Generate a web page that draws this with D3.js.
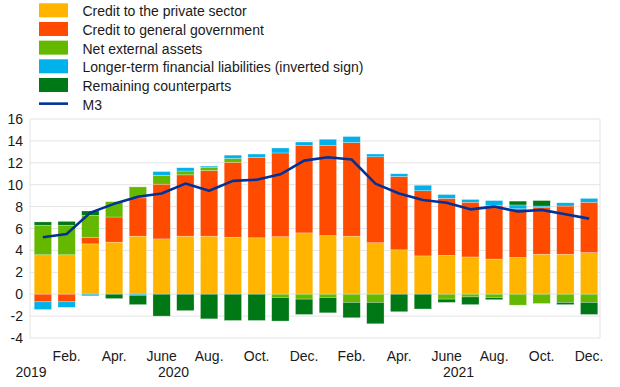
<!DOCTYPE html>
<html>
<head>
<meta charset="utf-8">
<script src="https://cdn.jsdelivr.net/npm/d3@7"></script>
<style>
  body { margin: 0; background: #fff; }
  text { font-family: "Liberation Sans", Arial, sans-serif; fill: #1a1a1a; }
</style>
</head>
<body>
<div id="chart"><svg width="620" height="387"></svg></div>
<script>
// months Jan 2020 .. Dec 2021
var months = ["2020-01", "2020-02", "2020-03", "2020-04", "2020-05", "2020-06",
    "2020-07", "2020-08", "2020-09", "2020-10", "2020-11", "2020-12",
    "2021-01", "2021-02", "2021-03", "2021-04", "2021-05", "2021-06",
    "2021-07", "2021-08", "2021-09", "2021-10", "2021-11", "2021-12"];
var monthLabels = ["", "Feb.", "", "Apr.", "", "June", "", "Aug.", "", "Oct.", "", "Dec.",
    "", "Feb.", "", "Apr.", "", "June", "", "Aug.", "", "Oct.", "", "Dec."];
var years = ["2019", "2020", "2021"];

var privateSector = [3.6, 3.6, 4.6, 4.75, 5.3, 5.05, 5.3, 5.3, 5.2, 5.15, 5.25, 5.6,
    5.35, 5.3, 4.7, 4.05, 3.5, 3.55, 3.4, 3.2, 3.35, 3.65, 3.65, 3.8];
var generalGov = [-0.7, -0.7, 0.6, 2.3, 3.5, 5.0, 5.6, 6.0, 6.85, 7.35, 7.65, 8.0,
    8.25, 8.55, 7.85, 6.7, 5.95, 5.2, 5.0, 4.9, 4.45, 4.3, 4.4, 4.6];
var netExternal = [2.7, 2.7, 2.0, 1.4, 1.0, 0.8, 0.35, 0.3, 0.35, 0, -0.3, -0.45,
    -0.3, -0.75, -0.75, 0, 0, -0.45, -0.25, -0.3, -1.0, -0.85, -0.75, -0.75];
var longerTerm = [-0.7, -0.5, -0.15, 0, -0.1, 0.35, 0.3, 0.1, 0.3, 0.3, 0.45, 0.3,
    0.55, 0.55, 0.25, 0.25, 0.5, 0.35, 0.25, 0.45, 0.35, 0.1, 0.3, 0.35];
var remaining = [0.3, 0.35, 0.4, -0.4, -0.85, -2.0, -1.5, -2.25, -2.4, -2.4, -2.15, -1.4,
    -1.4, -1.4, -1.95, -1.6, -1.35, -0.3, -0.7, -0.2, 0.35, 0.5, -0.2, -1.1];
var m3 = [5.2, 5.5, 7.45, 8.25, 8.9, 9.2, 10.1, 9.45, 10.35, 10.45, 10.95, 12.2,
    12.5, 12.3, 10.1, 9.2, 8.6, 8.35, 7.75, 8.0, 7.55, 7.7, 7.3, 6.9];

var yTicks = [-4, -2, 0, 2, 4, 6, 8, 10, 12, 14, 16];

var series = [
    {key: "priv", name: "Credit to the private sector", color: "#ffb400", values: privateSector},
    {key: "gov", name: "Credit to general government", color: "#ff4b00", values: generalGov},
    {key: "nea", name: "Net external assets", color: "#65b800", values: netExternal},
    {key: "ltfl", name: "Longer-term financial liabilities (inverted sign)", color: "#00b1ea", values: longerTerm},
    {key: "rem", name: "Remaining counterparts", color: "#007816", values: remaining}
];

var svg = d3.select("#chart").select("svg");

var plotLeft = 31, plotRight = 601, plotTop = 119, plotBottom = 338;

var x = d3.scaleBand()
    .domain(months)
    .range([plotLeft, plotRight])
    .paddingInner(0.27)
    .paddingOuter(0.135);

var y = d3.scaleLinear()
    .domain([-4, 16])
    .range([plotBottom, plotTop]);

// grid + frame
svg.selectAll(".grid")
    .data(yTicks)
    .enter().append("line")
    .attr("class", "grid")
    .attr("x1", plotLeft - 1)
    .attr("x2", plotRight - 1)
    .attr("y1", function (d) { return y(d); })
    .attr("y2", function (d) { return y(d); })
    .style("stroke", "#e3e3e3")
    .style("stroke-width", 1);

svg.append("line")
    .attr("x1", plotLeft - 1).attr("x2", plotLeft - 1)
    .attr("y1", y(16)).attr("y2", y(-4))
    .style("stroke", "#e3e3e3");
svg.append("line")
    .attr("x1", plotRight - 1).attr("x2", plotRight - 1)
    .attr("y1", y(16)).attr("y2", y(-4))
    .style("stroke", "#e3e3e3");

svg.selectAll(".ytick")
    .data(yTicks)
    .enter().append("text")
    .attr("class", "ytick")
    .attr("x", 23)
    .attr("y", function (d) { return y(d); })
    .attr("dy", "0.36em")
    .attr("text-anchor", "end")
    .style("font-size", "14px")
    .text(function (d) { return d; });

// stacked bars
var table = months.map(function (m, i) {
    var row = {month: m};
    series.forEach(function (s) { row[s.key] = s.values[i]; });
    return row;
});

var stack = d3.stack()
    .keys(series.map(function (s) { return s.key; }))
    .offset(d3.stackOffsetDiverging);

var layers = stack(table);

svg.selectAll(".layer")
    .data(layers)
    .enter().append("g")
    .attr("class", "layer")
    .style("fill", function (d, i) { return series[i].color; })
    .selectAll("rect")
    .data(function (d) { return d.filter(function (p) { return p[1] - p[0] !== 0; }); })
    .enter().append("rect")
    .attr("x", function (d) { return x(d.data.month); })
    .attr("width", x.bandwidth())
    .attr("y", function (d) { return y(Math.max(d[0], d[1])); })
    .attr("height", function (d) { return Math.abs(y(d[0]) - y(d[1])); })
    .style("stroke", "#fff")
    .style("stroke-opacity", 0.45)
    .style("stroke-width", 0.6);

// M3 line
var line = d3.line()
    .x(function (d, i) { return x(months[i]) + x.bandwidth() / 2; })
    .y(function (d) { return y(d); });

svg.append("path")
    .datum(m3)
    .attr("d", line)
    .style("fill", "none")
    .style("stroke", "#003299")
    .style("stroke-width", 2.6)
    .style("stroke-linejoin", "round");

// x labels
svg.selectAll(".xlab")
    .data(monthLabels)
    .enter().append("text")
    .attr("class", "xlab")
    .attr("x", function (d, i) { return x(months[i]) + x.bandwidth() / 2; })
    .attr("y", 361)
    .attr("text-anchor", "middle")
    .style("font-size", "14px")
    .text(function (d) { return d; });

var step = x.step();
var yearX = [plotLeft, plotLeft + step * 6, plotLeft + step * 18];
svg.selectAll(".year")
    .data(years)
    .enter().append("text")
    .attr("class", "year")
    .attr("x", function (d, i) { return yearX[i]; })
    .attr("y", 377)
    .attr("text-anchor", "middle")
    .style("font-size", "14px")
    .text(function (d) { return d; });

// legend
var legend = svg.append("g");
var rowH = 18.67;
series.forEach(function (s, i) {
    legend.append("rect")
        .attr("x", 39).attr("y", 3.3 + i * rowH)
        .attr("width", 29).attr("height", 14)
        .style("fill", s.color);
    legend.append("text")
        .attr("x", 82.5).attr("y", 16.3 + i * rowH)
        .style("font-size", "14px")
        .text(s.name);
});
legend.append("line")
    .attr("x1", 39).attr("x2", 68)
    .attr("y1", 3.3 + 5 * rowH + 7).attr("y2", 3.3 + 5 * rowH + 7)
    .style("stroke", "#003299")
    .style("stroke-width", 2.6);
legend.append("text")
    .attr("x", 82.5).attr("y", 16.3 + 5 * rowH)
    .style("font-size", "14px")
    .text("M3");
</script>
</body>
</html>
